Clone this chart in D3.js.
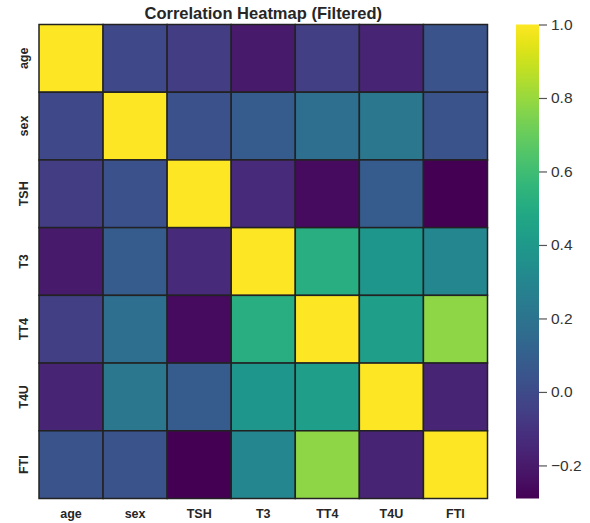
<!DOCTYPE html>
<html>
<head>
<meta charset="utf-8">
<script src="https://cdn.jsdelivr.net/npm/d3@7"></script>
<style>
  body { margin: 0; background: #fff; }
  text { font-family: "Liberation Sans", Arial, sans-serif; }
</style>
</head>
<body>
<div id="chart"></div>
<script>
// Variables in the matrix (same order on both axes)
const labels = ["age", "sex", "TSH", "T3", "TT4", "T4U", "FTI"];

// Correlation values (rows = y labels)
const corr = [
  [1.00, -0.01, -0.06, -0.20, -0.05, -0.16, 0.04],
  [-0.01, 1.00, 0.03, 0.08, 0.17, 0.22, 0.04],
  [-0.06, 0.03, 1.00, -0.135, -0.25, 0.08, -0.29],
  [-0.20, 0.08, -0.135, 1.00, 0.52, 0.39, 0.30],
  [-0.05, 0.17, -0.25, 0.52, 1.00, 0.43, 0.78],
  [-0.16, 0.22, 0.08, 0.39, 0.43, 1.00, -0.16],
  [0.04, 0.04, -0.29, 0.30, 0.78, -0.16, 1.00]
];

const colorbarTicks = [-0.2, 0.0, 0.2, 0.4, 0.6, 0.8, 1.0];

const width = 590, height = 523;
const margin = { left: 39, top: 24.5, right: 487.5, bottom: 498.5 };

const svg = d3.select("#chart").append("svg")
  .attr("width", width)
  .attr("height", height);

const x = d3.scaleBand().domain(labels).range([margin.left, margin.right]);
const y = d3.scaleBand().domain(labels).range([margin.top, margin.bottom]);

const vmin = d3.min(corr.flat()), vmax = d3.max(corr.flat());
const color = d3.scaleSequential(d3.interpolateViridis).domain([vmin, vmax]);

// cells
const cells = [];
corr.forEach((row, i) => row.forEach((v, j) => cells.push({ r: labels[i], c: labels[j], v })));

svg.append("g").selectAll("rect")
  .data(cells)
  .enter().append("rect")
  .attr("x", d => x(d.c))
  .attr("y", d => y(d.r))
  .attr("width", x.bandwidth())
  .attr("height", y.bandwidth())
  .style("fill", d => color(d.v))
  .style("stroke", "#222")
  .style("stroke-width", 1.5);

// title
svg.append("text")
  .attr("x", (margin.left + margin.right) / 2)
  .attr("y", 18.5)
  .attr("text-anchor", "middle")
  .style("font-size", "16.5px")
  .style("font-weight", "bold")
  .style("fill", "#262626")
  .text("Correlation Heatmap (Filtered)");

// x labels
svg.append("g").selectAll("text")
  .data(labels)
  .enter().append("text")
  .attr("x", d => x(d) + x.bandwidth() / 2)
  .attr("y", 518)
  .attr("text-anchor", "middle")
  .style("font-size", "12.5px")
  .style("font-weight", "bold")
  .style("fill", "#262626")
  .text(d => d);

// y labels (rotated)
svg.append("g").selectAll("text")
  .data(labels)
  .enter().append("text")
  .attr("transform", d => `translate(28,${y(d) + y.bandwidth() / 2}) rotate(-90)`)
  .attr("text-anchor", "middle")
  .style("font-size", "12.5px")
  .style("font-weight", "bold")
  .style("fill", "#262626")
  .text(d => d);

// colorbar
const cbX = 516, cbW = 23;
const cbScale = d3.scaleLinear().domain([vmin, vmax]).range([margin.bottom, margin.top]);

const grad = svg.append("defs").append("linearGradient")
  .attr("id", "cb-grad")
  .attr("x1", "0%").attr("y1", "100%")
  .attr("x2", "0%").attr("y2", "0%");

grad.selectAll("stop")
  .data(d3.range(0, 1.0001, 0.02))
  .enter().append("stop")
  .attr("offset", d => d)
  .attr("stop-color", d => d3.interpolateViridis(d));

svg.append("rect")
  .attr("x", cbX)
  .attr("y", margin.top)
  .attr("width", cbW)
  .attr("height", margin.bottom - margin.top)
  .style("fill", "url(#cb-grad)");

const cbAxis = d3.axisRight(cbScale)
  .tickValues(colorbarTicks)
  .tickSize(8)
  .tickPadding(4)
  .tickFormat(d => d3.format(".1f")(d).replace("-", "\u2212"));

const cbG = svg.append("g")
  .attr("transform", `translate(${cbX + cbW},0)`)
  .call(cbAxis);

cbG.select(".domain").remove();
cbG.selectAll(".tick line").style("stroke", "#555").style("stroke-width", 1.2);
cbG.selectAll(".tick text")
  .style("font-size", "15.5px")
  .style("font-family", "'Liberation Sans', Arial, sans-serif")
  .style("fill", "#333");
</script>
</body>
</html>
